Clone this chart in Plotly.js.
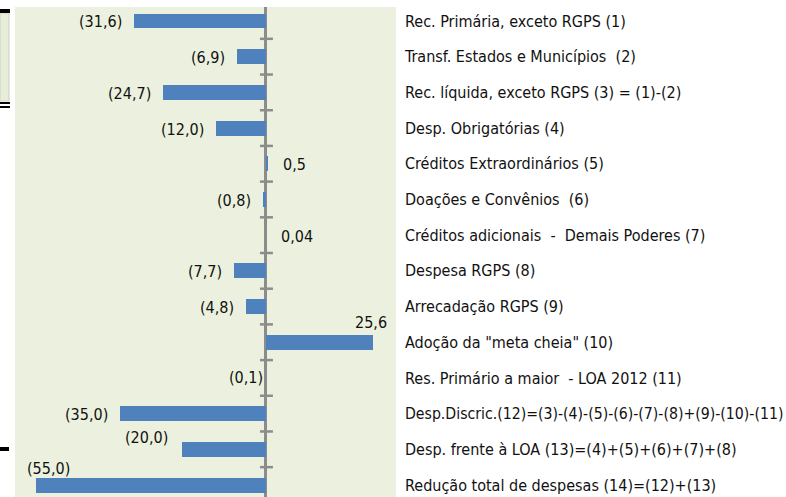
<!DOCTYPE html>
<html>
<head>
<meta charset="utf-8">
<script src="https://cdn.plot.ly/plotly-3.0.1.min.js"></script>
<style>html,body{margin:0;padding:0;background:#fff;}#chart{width:786px;height:497px;}</style>
</head>
<body>
<div id="chart"></div>
<script>
const categories = [
  'Rec. Primária, exceto RGPS (1)',
  'Transf. Estados e Municípios  (2)',
  'Rec. líquida, exceto RGPS (3) = (1)-(2)',
  'Desp. Obrigatórias (4)',
  'Créditos Extraordinários (5)',
  'Doações e Convênios  (6)',
  'Créditos adicionais  -  Demais Poderes (7)',
  'Despesa RGPS (8)',
  'Arrecadação RGPS (9)',
  'Adoção da "meta cheia" (10)',
  'Res. Primário a maior  - LOA 2012 (11)',
  'Desp.Discric.(12)=(3)-(4)-(5)-(6)-(7)-(8)+(9)-(10)-(11)',
  'Desp. frente à LOA (13)=(4)+(5)+(6)+(7)+(8)',
  'Redução total de despesas (14)=(12)+(13)'
];
const values = [-31.6, -6.9, -24.7, -12.0, 0.5, -0.8, 0.04, -7.7, -4.8, 25.6, -0.1, -35.0, -20.0, -55.0];
const valueLabels = ['(31,6)', '(6,9)', '(24,7)', '(12,0)', '0,5', '(0,8)', '0,04', '(7,7)', '(4,8)', '25,6', '(0,1)', '(35,0)', '(20,0)', '(55,0)'];

// label placement overrides (style only)
const labelStyle = {
  9:  {xanchor: 'center', xshift: -2, yshift: 20},
  10: {xanchor: 'right', xshift: -1, yshift: 0},
  12: {xanchor: 'right', xshift: -12, yshift: 12},
  13: {xanchor: 'left', xshift: -11, yshift: 17}
};
// the longest category label is set slightly smaller so it fits like the original
const smallLabel = {11: 15.7};

const FONT = 'Liberation Sans Narrow, DejaVu Sans Condensed, Arial Narrow, sans-serif';
const W = 786, H = 497, L = 15, R = 390, T = 7, B = 0;
const pw = W - L - R, ph = H - T - B;
const px2x = p => (p - L) / pw;
const py2y = p => 1 - (p - T) / ph;

const annotations = values.map((v, i) => {
  const s = labelStyle[i] || (v < 0 ? {xanchor: 'right', xshift: -10, yshift: -1} : {xanchor: 'left', xshift: 13, yshift: -1});
  return {
    x: v, y: categories[i], xref: 'x', yref: 'y',
    text: valueLabels[i], showarrow: false,
    xanchor: s.xanchor, yanchor: 'middle', xshift: s.xshift, yshift: s.yshift,
    font: {family: FONT, size: 16, color: '#111'}
  };
});

const tickText = categories.map((c, i) =>
  smallLabel[i] ? '<span style="font-size:' + smallLabel[i] + 'px">' + c + '</span>' : c);

const shapes = [];
// category-boundary tick marks on the zero axis
for (let i = 0; i < categories.length - 1; i++) {
  shapes.push({type: 'line', xref: 'x', yref: 'y', xsizemode: 'pixel', xanchor: 0,
    x0: -6, x1: 7, y0: i + 0.5, y1: i + 0.5, line: {color: '#8c8c8c', width: 2.5}, layer: 'above'});
}
// decorative fragments at the left edge
const rect = (x0, y0, x1, y1, fill, line) => ({type: 'rect', xref: 'paper', yref: 'paper',
  x0: px2x(x0), x1: px2x(x1), y0: py2y(y1), y1: py2y(y0), fillcolor: fill, line: line || {width: 0}, layer: 'above'});
shapes.push(rect(0, 13, 9, 101, '#e6eed8', {width: 1, color: '#c9cfc0'}));
shapes.push(rect(0, 9, 10, 13, '#000'));
shapes.push(rect(0, 102, 10, 104, '#000'));
shapes.push(rect(0, 106, 10, 108, '#000'));
shapes.push(rect(0, 447, 9, 451, '#000'));

const trace = {
  type: 'bar', orientation: 'h',
  x: values, y: categories,
  width: 0.42,
  marker: {color: '#4f81bd', line: {width: 0}},
  hoverinfo: 'skip'
};

const layout = {
  width: W, height: H,
  margin: {l: L, r: R, t: T, b: B, pad: 0},
  paper_bgcolor: '#ffffff',
  plot_bgcolor: '#ebf1de',
  showlegend: false,
  bargap: 0,
  xaxis: {
    range: [-60, 31.1], showticklabels: false, ticks: '', showgrid: false,
    zeroline: true, zerolinecolor: '#8c8c8c', zerolinewidth: 3, showline: false, fixedrange: true
  },
  yaxis: {
    type: 'category', side: 'right', range: [13.336, -0.392],
    tickmode: 'array', tickvals: categories, ticktext: tickText,
    showgrid: false, zeroline: false, showline: false, ticks: '',
    ticklabelstandoff: 8,
    tickfont: {family: FONT, size: 16, color: '#111'}, fixedrange: true
  },
  annotations: annotations,
  shapes: shapes
};

Plotly.newPlot('chart', [trace], layout, {displayModeBar: false, staticPlot: true});
</script>
</body>
</html>
